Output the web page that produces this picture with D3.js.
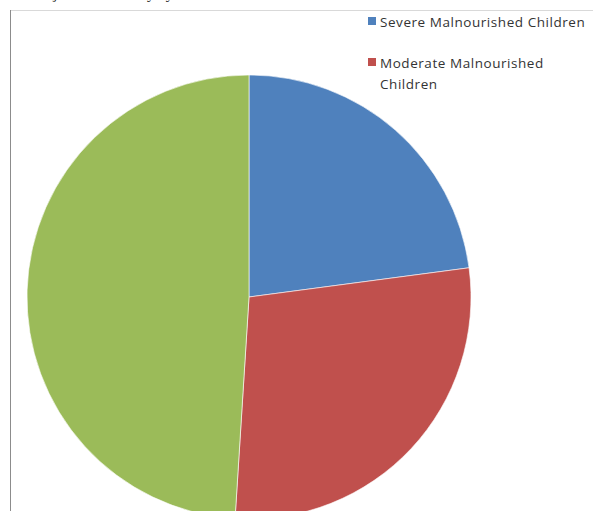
<!DOCTYPE html>
<html>
<head>
<meta charset="utf-8">
<script src="https://cdn.jsdelivr.net/npm/d3@7"></script>
<style>
    body { margin: 0; background: #fff; overflow: hidden; }
    text { font-family: "Open Sans", "DejaVu Sans", sans-serif; }
</style>
</head>
<body>
<script>
// chart data
var categories = ['Severe Malnourished Children', 'Moderate Malnourished Children', 'Normal Children'];
var values = [22.9, 28.1, 49.0];
var colors = ['#4F81BD', '#C0504D', '#9BBB59'];
var legendLines = [['Severe Malnourished Children'], ['Moderate Malnourished', 'Children']];

window.onload = function () {
    var w = 593,
        h = 511;

    var svg = d3.select('body')
        .append('svg')
        .attr('width', w)
        .attr('height', h);

    // title, cut off at the top like in the source screenshot
    svg.append('text')
        .attr('x', 30)
        .attr('y', -1)
        .style('font-family', '"Liberation Serif", serif')
        .style('font-size', '15px')
        .style('fill', '#222')
        .text('Subjects in the study by malnutrition status');

    // chart frame (only top and left edges are in view)
    svg.append('line')
        .attr('x1', 10).attr('y1', 10.5)
        .attr('x2', w).attr('y2', 10.5)
        .style('stroke', '#d9d9d9');
    svg.append('line')
        .attr('x1', 10.5).attr('y1', 10)
        .attr('x2', 10.5).attr('y2', h)
        .style('stroke', '#8c8c8c');

    var data = categories.map(function (c, i) {
        return { name: c, value: values[i], color: colors[i] };
    });

    var pie = d3.pie()
        .sort(null)
        .value(function (d) { return d.value; });

    var radius = 222;
    var arc = d3.arc()
        .innerRadius(0)
        .outerRadius(radius);

    var g = svg.append('g')
        .attr('transform', 'translate(249, 297)');

    g.selectAll('.slice')
        .data(pie(data))
        .enter()
        .append('path')
        .attr('class', 'slice')
        .attr('d', arc)
        .style('fill', function (d) { return d.data.color; })
        .style('stroke', '#fff')
        .style('stroke-width', 0.6);

    // legend
    var legend = svg.selectAll('.legend')
        .data(legendLines)
        .enter()
        .append('g')
        .attr('class', 'legend')
        .attr('transform', function (d, i) {
            return 'translate(368,' + (17 + i * 41) + ')';
        });

    legend.append('rect')
        .attr('width', 8)
        .attr('height', 8)
        .style('fill', function (d, i) { return colors[i]; });

    legend.append('text')
        .attr('x', 12)
        .attr('y', 10)
        .style('font-size', '13.5px')
        .style('letter-spacing', '0.55px')
        .style('fill', '#333')
        .selectAll('tspan')
        .data(function (d) { return d; })
        .enter()
        .append('tspan')
        .attr('x', 12)
        .attr('dy', function (d, i) { return i === 0 ? 0 : 21; })
        .text(function (d) { return d; });
};
</script>
</body>
</html>
